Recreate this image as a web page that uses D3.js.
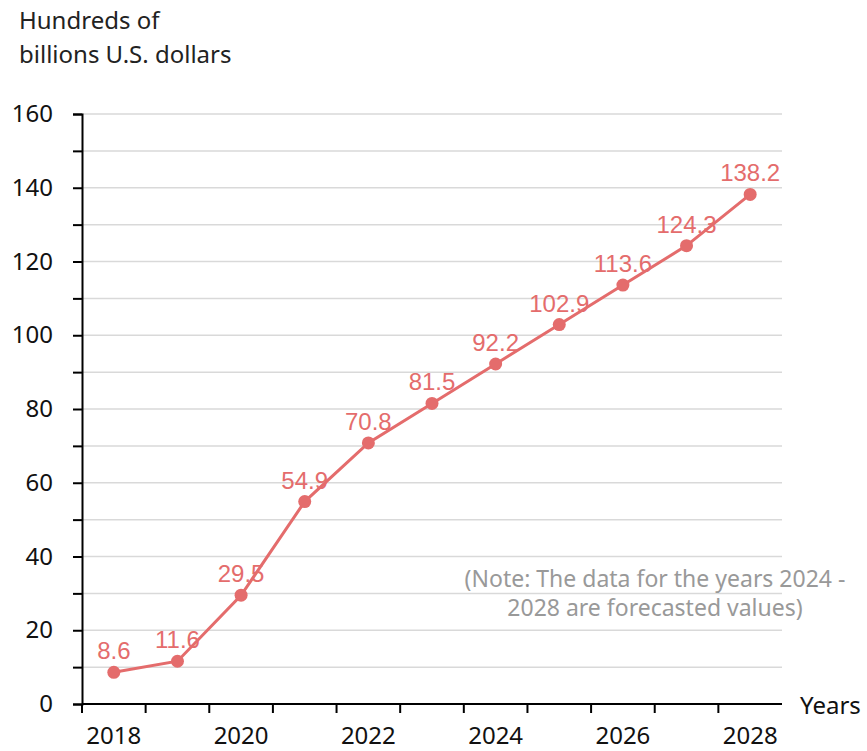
<!DOCTYPE html>
<html>
<head>
<meta charset="utf-8">
<script src="https://cdn.jsdelivr.net/npm/d3@7"></script>
<style>
  body { margin: 0; background: #fff; }
  svg { display: block; }
</style>
</head>
<body>
<div id="chart"></div>
<script>
const years = ["2018", "2019", "2020", "2021", "2022", "2023", "2024", "2025", "2026", "2027", "2028"];
const values = [8.6, 11.6, 29.5, 54.9, 70.8, 81.5, 92.2, 102.9, 113.6, 124.3, 138.2];
const yTicks = [0, 20, 40, 60, 80, 100, 120, 140, 160];
const noteLines = ["(Note: The data for the years 2024 -", "2028 are forecasted values)"];

const outerWidth = 867, outerHeight = 751;
const margin = {top: 114, right: 85, bottom: 47, left: 82};
const width = outerWidth - margin.left - margin.right;
const height = outerHeight - margin.top - margin.bottom;
const axisFont = "'Noto Sans', 'Open Sans', sans-serif";
const red = "#e46c6c";

const root = d3.select("#chart").append("svg")
    .attr("width", outerWidth)
    .attr("height", outerHeight);

const svg = root.append("g")
    .attr("transform", "translate(" + margin.left + "," + margin.top + ")");

const xScale = d3.scaleBand()
    .domain(years)
    .range([0, width]);

const yScale = d3.scaleLinear()
    .domain([0, 160])
    .range([height, 0]);

// gridlines every 10
const minor = d3.range(10, 161, 10);
svg.append("g")
    .selectAll("line")
    .data(minor)
    .join("line")
    .attr("x1", 0)
    .attr("x2", width)
    .attr("y1", d => yScale(d))
    .attr("y2", d => yScale(d))
    .attr("stroke", "#d9d9d9")
    .attr("stroke-width", 1.5);

// y axis: ticks every 10, labels every 20
const yaxis = svg.append("g")
    .call(d3.axisLeft(yScale).tickValues(d3.range(0, 161, 10)).tickSize(9).tickPadding(20)
        .tickFormat(d => yTicks.includes(d) ? d : ""));
yaxis.select(".domain").attr("stroke", "#000").attr("stroke-width", 2);
yaxis.selectAll(".tick line").attr("stroke", "#000").attr("stroke-width", 2);
yaxis.selectAll("text")
    .attr("font-family", axisFont)
    .attr("font-size", 24)
    .attr("fill", "#111");

// x axis: ticks at band boundaries, labels every other year
const xaxis = svg.append("g")
    .attr("transform", `translate(0, ${height})`);
xaxis.append("line")
    .attr("x1", 0).attr("x2", width)
    .attr("stroke", "#000").attr("stroke-width", 2);
xaxis.selectAll(".xt")
    .data(years)
    .join("line")
    .attr("class", "xt")
    .attr("x1", d => xScale(d))
    .attr("x2", d => xScale(d))
    .attr("y1", 0).attr("y2", 9)
    .attr("stroke", "#000").attr("stroke-width", 2);
xaxis.selectAll(".xl")
    .data(years.filter((d, i) => i % 2 === 0))
    .join("text")
    .attr("class", "xl")
    .attr("x", d => xScale(d) + xScale.bandwidth() / 2)
    .attr("y", 40)
    .attr("text-anchor", "middle")
    .attr("font-family", axisFont)
    .attr("font-size", 24)
    .attr("fill", "#111")
    .text(d => d);

xaxis.append("text")
    .attr("x", width + 18)
    .attr("y", 10)
    .attr("font-family", axisFont)
    .attr("font-size", 24)
    .attr("fill", "#111")
    .text("Years");

// axis title
root.append("text")
    .attr("font-family", axisFont)
    .attr("font-size", 24)
    .attr("fill", "#222")
    .selectAll("tspan")
    .data(["Hundreds of", "billions U.S. dollars"])
    .join("tspan")
    .attr("x", 19)
    .attr("y", (d, i) => 29 + i * 34)
    .text(d => d);

// line
const cx = d => xScale(d) + xScale.bandwidth() / 2;
const line = d3.line()
    .x((d, i) => cx(years[i]))
    .y(d => yScale(d));

svg.append("path")
    .datum(values)
    .attr("d", line)
    .attr("fill", "none")
    .attr("stroke", red)
    .attr("stroke-width", 3);

svg.selectAll(".pt")
    .data(values)
    .join("circle")
    .attr("class", "pt")
    .attr("cx", (d, i) => cx(years[i]))
    .attr("cy", d => yScale(d))
    .attr("r", 6.5)
    .attr("fill", red);

svg.selectAll(".lbl")
    .data(values)
    .join("text")
    .attr("class", "lbl")
    .attr("x", (d, i) => cx(years[i]))
    .attr("y", d => yScale(d) - 13)
    .attr("text-anchor", "middle")
    .attr("font-family", "'Liberation Sans', Arial, sans-serif")
    .attr("font-size", 24)
    .attr("fill", red)
    .text(d => d);

// note
svg.append("text")
    .attr("font-family", axisFont)
    .attr("font-size", 23)
    .attr("fill", "#999")
    .attr("text-anchor", "middle")
    .selectAll("tspan")
    .data(noteLines)
    .join("tspan")
    .attr("x", 573)
    .attr("y", (d, i) => 473 + i * 29)
    .text(d => d);
</script>
</body>
</html>
